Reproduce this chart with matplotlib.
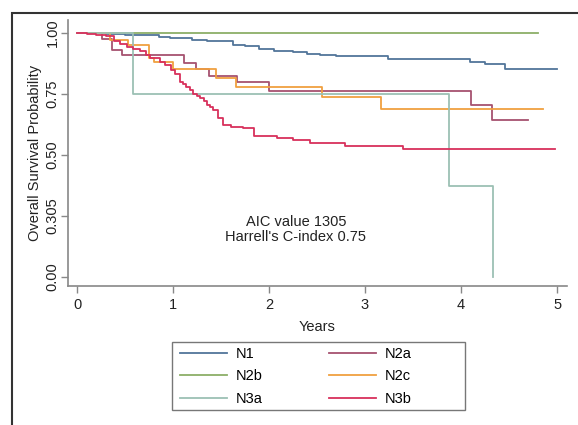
import matplotlib.pyplot as plt
from matplotlib.patches import Rectangle

plt.rcParams['font.family'] = ['Liberation Sans', 'DejaVu Sans']

# Kaplan-Meier step curves (years, survival)
n1_t = [0, 0.1, 0.3, 0.5, 0.76, 0.85, 0.97, 1.2, 1.35, 1.49, 1.62, 1.75, 1.9, 2.05, 2.25, 2.4, 2.53, 2.70,
        2.9, 3.24, 3.6, 4.09, 4.25, 4.46, 5.0]
n1_s = [1.0, 0.998, 0.995, 0.993, 0.99, 0.985, 0.978, 0.972, 0.968, 0.965, 0.952, 0.945, 0.933, 0.927, 0.921,
        0.915, 0.911, 0.907, 0.905, 0.893, 0.892, 0.882, 0.872, 0.851, 0.851]

n2a_t = [0, 0.26, 0.36, 0.47, 1.11, 1.24, 1.37, 1.67, 2.0, 4.10, 4.32, 4.70]
n2a_s = [1.0, 0.977, 0.93, 0.91, 0.876, 0.851, 0.824, 0.797, 0.762, 0.705, 0.643, 0.643]

n2b_t = [0, 4.8]
n2b_s = [1.0, 1.0]

n2c_t = [0, 0.34, 0.53, 0.75, 0.8, 1.0, 1.45, 1.66, 2.55, 3.17, 4.85]
n2c_s = [1.0, 0.971, 0.951, 0.896, 0.882, 0.851, 0.814, 0.777, 0.736, 0.687, 0.687]

n3a_t = [0, 0.58, 3.875, 4.33, 4.33]
n3a_s = [1.0, 0.75, 0.373, 0.0, 0.0]

n3b_t = [0, 0.1, 0.2, 0.3, 0.38, 0.45, 0.52, 0.58, 0.66, 0.72, 0.76, 0.86, 0.92, 0.98, 1.02, 1.07, 1.1,
         1.14, 1.18, 1.21, 1.25, 1.28, 1.32, 1.35, 1.39, 1.42, 1.47, 1.52, 1.6, 1.73, 1.84, 2.08, 2.25,
         2.43, 2.79, 3.40, 4.98]
n3b_s = [1.0, 0.997, 0.993, 0.988, 0.965, 0.955, 0.944, 0.935, 0.924, 0.91, 0.896, 0.882, 0.87, 0.848,
         0.83, 0.80, 0.79, 0.78, 0.765, 0.75, 0.74, 0.732, 0.72, 0.705, 0.695, 0.684, 0.65, 0.623, 0.615,
         0.609, 0.578, 0.568, 0.561, 0.551, 0.537, 0.523, 0.523]

y_ticks = [0, 0.25, 0.5, 0.75, 1.0]
y_labels = ["0.00", "0.305", "0.50", "0.75", "1.00"]
x_ticks = [0, 1, 2, 3, 4, 5]

series = [
    ("N1", n1_t, n1_s, "#52759a"),
    ("N2a", n2a_t, n2a_s, "#a65270"),
    ("N2b", n2b_t, n2b_s, "#8caf68"),
    ("N2c", n2c_t, n2c_s, "#f0a040"),
    ("N3a", n3a_t, n3a_s, "#9cc0b4"),
    ("N3b", n3b_t, n3b_s, "#d8305c"),
]

W, H = 578, 425
fig = plt.figure(figsize=(W / 100, H / 100), dpi=100)
# outer frame (left and top edges visible)
fig.patches.append(Rectangle((12 / W, -0.1), 1.2, 1 - 13 / H + 0.1, transform=fig.transFigure,
                             fill=False, edgecolor="#333333", linewidth=1.5))
# legend box
fig.patches.append(Rectangle((172 / W, 1 - 410 / H), (465 - 172) / W, (410 - 342) / H,
                             transform=fig.transFigure, fill=False, edgecolor="#777777", linewidth=1.0))

ax = fig.add_axes([68 / W, (H - 286) / H, (567 - 68) / W, (286 - 20) / H])
lines = {}
for name, t, s, c in series:
    ln, = ax.plot(t, s, drawstyle="steps-post", color=c, linewidth=1.3, label=name)
    lines[name] = ln

ax.set_xlim(-0.094, 5.104)
ax.set_ylim(-0.037, 1.053)
ax.set_xticks(x_ticks)
ax.set_yticks(y_ticks)
ax.set_yticklabels(y_labels, rotation=90, va="center")
ax.tick_params(axis="both", colors="#888888", labelcolor="#222222", labelsize=10.5, length=5, width=1)
ax.tick_params(axis="y", pad=1)
for side in ["top", "right"]:
    ax.spines[side].set_visible(False)
for side in ["left", "bottom"]:
    ax.spines[side].set_color("#888888")
    ax.spines[side].set_linewidth(1.2)

ax.set_xlabel("Years", fontsize=10.5, color="#222222", labelpad=6)
ax.set_ylabel("Overall Survival Probability", fontsize=10.5, color="#222222", labelpad=3)

ax.text(2.28, 0.227, "AIC value 1305", ha="center", va="center", fontsize=10.5, color="#222222")
ax.text(2.28, 0.165, "Harrell's C-index 0.75", ha="center", va="center", fontsize=10.5, color="#222222")

order = ["N1", "N2b", "N3a", "N2a", "N2c", "N3b"]
leg = fig.legend([lines[n] for n in order], order, ncol=2, loc="upper left",
                 bbox_to_anchor=(180 / W, 1 - 347 / H), frameon=False, borderpad=0, borderaxespad=0,
                 fontsize=10.5, handlelength=3.2, handletextpad=0.6, columnspacing=4.6,
                 labelspacing=0.58)

fig.savefig("out.png", dpi=100)
